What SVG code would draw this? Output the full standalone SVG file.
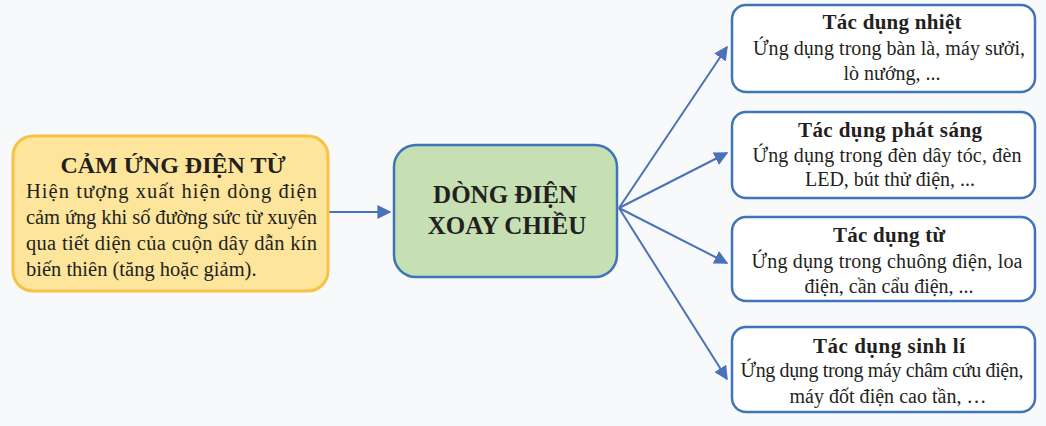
<svg xmlns="http://www.w3.org/2000/svg" width="1046" height="426" viewBox="0 0 1046 426">
<style>
text{font-family:"Liberation Serif","DejaVu Serif",serif;fill:#231f20}
.t{font-weight:bold;font-size:21px;text-anchor:middle}
.b{font-size:20px;text-anchor:middle}
.lb{font-size:20.5px}
.box{fill:#ffffff;stroke:#3e74b8;stroke-width:2.5}
.c{stroke:#4a72b8;stroke-width:2;fill:none}
</style>
<defs>
<marker id="ah" viewBox="0 0 10 10" refX="9" refY="5" markerWidth="7" markerHeight="7" markerUnits="strokeWidth" orient="auto">
<path d="M0,0 L10,5 L0,10 z" fill="#4a72b8"/>
</marker>
</defs>
<rect width="1046" height="426" fill="#f8f9fa"/>
<g id="connectors">
<line class="c" x1="329" y1="212" x2="390" y2="212" marker-end="url(#ah)"/>
<line class="c" x1="619" y1="208" x2="727" y2="47" marker-end="url(#ah)"/>
<line class="c" x1="619" y1="208" x2="727" y2="153" marker-end="url(#ah)"/>
<line class="c" x1="619" y1="208" x2="727" y2="263" marker-end="url(#ah)"/>
<line class="c" x1="619" y1="208" x2="727" y2="379" marker-end="url(#ah)"/>
</g>
<g id="cam-ung">
<rect x="13" y="136" width="315" height="155" rx="20" fill="#fde59b" stroke="#f7c245" stroke-width="3"/>
<text x="173" y="173" font-weight="bold" font-size="24" text-anchor="middle">CẢM ỨNG ĐIỆN TỪ</text>
<text class="lb" x="26" y="198" textLength="291" lengthAdjust="spacing">Hiện tượng xuất hiện dòng điện</text>
<text class="lb" x="26" y="224" textLength="291" lengthAdjust="spacing">cảm ứng khi số đường sức từ xuyên</text>
<text class="lb" x="26" y="250" textLength="291" lengthAdjust="spacing">qua tiết diện của cuộn dây dẫn kín</text>
<text class="lb" x="26" y="276">biến thiên (tăng hoặc giảm).</text>
</g>
<g id="dong-dien">
<rect x="394" y="145" width="223" height="132" rx="22" fill="#c6e0b4" stroke="#3e74b8" stroke-width="2.5"/>
<text x="505" y="203" font-weight="bold" font-size="25" text-anchor="middle">DÒNG ĐIỆN</text>
<text x="507" y="234" font-weight="bold" font-size="25" text-anchor="middle">XOAY CHIỀU</text>
</g>
<g id="nhiet">
<rect class="box" x="732" y="5" width="303" height="87" rx="14"/>
<text class="t" x="892" y="29" textLength="139" lengthAdjust="spacing">Tác dụng nhiệt</text>
<text class="b" x="889" y="55" textLength="272" lengthAdjust="spacing">Ứng dụng trong bàn là, máy sưởi,</text>
<text class="b" x="892" y="80">lò nướng, ...</text>
</g>
<g id="phat-sang">
<rect class="box" x="732" y="112" width="303" height="86" rx="14"/>
<text class="t" x="890" y="137" textLength="184" lengthAdjust="spacing">Tác dụng phát sáng</text>
<text class="b" x="887" y="162" textLength="269" lengthAdjust="spacing">Ứng dụng trong đèn dây tóc, đèn</text>
<text class="b" x="890" y="186" textLength="170" lengthAdjust="spacing">LED, bút thử điện, ...</text>
</g>
<g id="tu">
<rect class="box" x="732" y="217" width="303" height="84" rx="14"/>
<text class="t" x="889" y="242" textLength="112" lengthAdjust="spacing">Tác dụng từ</text>
<text class="b" x="887" y="268" textLength="271" lengthAdjust="spacing">Ứng dụng trong chuông điện, loa</text>
<text class="b" x="889" y="293" textLength="169" lengthAdjust="spacing">điện, cần cẩu điện, ...</text>
</g>
<g id="sinh-li">
<rect class="box" x="732" y="327" width="303" height="85" rx="14"/>
<text class="t" x="889" y="353" textLength="152" lengthAdjust="spacing">Tác dụng sinh lí</text>
<text class="b" x="882" y="377" textLength="283" lengthAdjust="spacing">Ứng dụng trong máy châm cứu điện,</text>
<text class="b" x="888" y="403" textLength="197" lengthAdjust="spacing">máy đốt điện cao tần, …</text>
</g>
</svg>
